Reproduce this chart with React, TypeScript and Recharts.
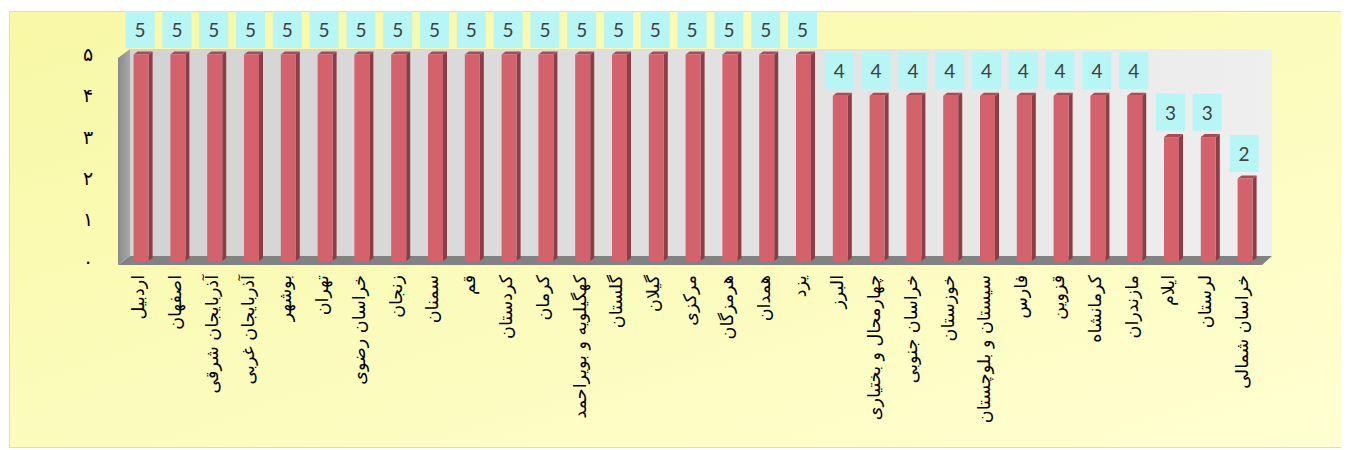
import { BarChart, Bar, XAxis, YAxis, LabelList } from "recharts";

const provinces = [
  "اردبیل",
  "اصفهان",
  "آذربایجان شرقی",
  "آذربایجان غربی",
  "بوشهر",
  "تهران",
  "خراسان رضوی",
  "زنجان",
  "سمنان",
  "قم",
  "کردستان",
  "کرمان",
  "کهگیلویه و بویراحمد",
  "گلستان",
  "گیلان",
  "مرکزی",
  "هرمزگان",
  "همدان",
  "یزد",
  "البرز",
  "چهارمحال و بختیاری",
  "خراسان جنوبی",
  "خوزستان",
  "سیستان و بلوچستان",
  "فارس",
  "قزوین",
  "کرمانشاه",
  "مازندران",
  "ایلام",
  "لرستان",
  "خراسان شمالی",
];

const scores = [
  5, 5, 5, 5, 5, 5, 5, 5, 5, 5, 5, 5, 5, 5, 5, 5, 5, 5, 5,
  4, 4, 4, 4, 4, 4, 4, 4, 4,
  3, 3,
  2,
];

const yTicks = [0, 1, 2, 3, 4, 5];
const yTickLabels = ["۰", "۱", "۲", "۳", "۴", "۵"];

const data = provinces.map((name, i) => ({ name, score: scores[i] }));

// layout (svg coords, svg sits at the 8px body margin)
const W = 1341;
const H = 442;
const Y_AXIS_W = 116.6;
const X_AXIS_H = 189;
const MARGIN = { top: 46.5, right: 83.6, bottom: 0, left: 0 };

const PL = MARGIN.left + Y_AXIS_W;
const PR = W - MARGIN.right;
const PT = MARGIN.top;
const PB = H - MARGIN.bottom - X_AXIS_H;

// 3d box around the plot
const DX = 12;
const DY = 9;
const FL = PL - 6.6;
const FB = PB + 4;
const BL = FL + DX;
const BB = FB - DY;
const BT = PT - 5.5;
const BR = PR + 6.6;
const FR = BR - 10;

function Backdrop() {
  return (
    <svg width={W} height={H} style={{ position: "absolute", left: 0, top: 0 }}>
      <defs>
        <linearGradient id="bgFill" x1="0" y1="0" x2="1" y2="1">
          <stop offset="0%" stopColor="#F8F8A6" />
          <stop offset="100%" stopColor="#FFFFD2" />
        </linearGradient>
        <linearGradient id="wallFill" x1="0" y1="0" x2="1" y2="0">
          <stop offset="0%" stopColor="#D2D2D2" />
          <stop offset="100%" stopColor="#EFEFEF" />
        </linearGradient>
        <linearGradient id="sideFill" x1="0" y1="0" x2="1" y2="0">
          <stop offset="0%" stopColor="#8A8A8A" />
          <stop offset="100%" stopColor="#A8A8A8" />
        </linearGradient>
      </defs>
      <rect x={1.5} y={3.5} width={1336} height={436} fill="url(#bgFill)" stroke="#D9D9D9" />
      <rect x={BL} y={BT} width={BR - BL} height={BB - BT} fill="url(#wallFill)" />
      <polygon
        points={`${FL},${BT + DY} ${BL},${BT} ${BL},${BB} ${FL},${FB}`}
        fill="url(#sideFill)"
      />
      <polygon
        points={`${FL},${FB} ${BL},${BB} ${BR},${BB} ${FR},${FB}`}
        fill="#828282"
      />
    </svg>
  );
}

function Bar3D(props: any) {
  const { x, y, width, height } = props;
  if (!height) return null;
  const side = 4;
  const depth = 3;
  const fw = width - side;
  return (
    <g>
      <polygon
        points={`${x + fw},${y} ${x + width},${y - depth} ${x + width},${y + height - depth} ${x + fw},${y + height}`}
        fill="#8B3E46"
      />
      <polygon
        points={`${x},${y} ${x + side},${y - depth} ${x + width},${y - depth} ${x + fw},${y}`}
        fill="#A84C55"
      />
      <rect x={x} y={y} width={fw} height={height} fill="#D3626C" />
    </g>
  );
}

function ValueBox(props: any) {
  const { x, y, width, value } = props;
  const bw = 29;
  const bh = 37;
  const cx = x + (width - 4) / 2 - 1;
  const bottom = y - 6.5;
  return (
    <g>
      <rect x={cx - bw / 2} y={bottom - bh} width={bw} height={bh} fill="#B8F5F5" />
      <text
        x={cx}
        y={bottom - bh / 2}
        textAnchor="middle"
        dominantBaseline="central"
        fontFamily="Lato"
        fontSize={19}
        fill="#404040"
      >
        {value}
      </text>
    </g>
  );
}

function ProvinceTick(props: any) {
  const { x, payload } = props;
  return (
    <text
      transform={`translate(${x - 5},${PB + 14}) rotate(-90)`}
      textAnchor="start"
      direction="rtl"
      dominantBaseline="central"
      fontFamily="DejaVu Sans"
      fontSize={17.5}
      fill="#000"
    >
      {payload.value}
    </text>
  );
}

function DigitTick(props: any) {
  const { y, payload } = props;
  return (
    <text
      x={80}
      y={y}
      dy="0.35em"
      textAnchor="middle"
      fontFamily="DejaVu Sans"
      fontSize={19}
      fill="#000"
    >
      {yTickLabels[yTicks.indexOf(payload.value)]}
    </text>
  );
}

export default function App() {
  return (
    <div style={{ position: "relative", width: W, height: H }}>
      <Backdrop />
      <div style={{ position: "absolute", left: 0, top: 0 }}>
        <BarChart width={W} height={H} data={data} margin={MARGIN} barSize={19}>
          <XAxis
            dataKey="name"
            interval={0}
            height={X_AXIS_H}
            axisLine={false}
            tickLine={false}
            tick={<ProvinceTick />}
          />
          <YAxis
            domain={[0, 5]}
            ticks={yTicks}
            width={Y_AXIS_W}
            axisLine={false}
            tickLine={false}
            tick={<DigitTick />}
          />
          <Bar dataKey="score" shape={<Bar3D />} isAnimationActive={false}>
            <LabelList dataKey="score" content={<ValueBox />} />
          </Bar>
        </BarChart>
      </div>
    </div>
  );
}
